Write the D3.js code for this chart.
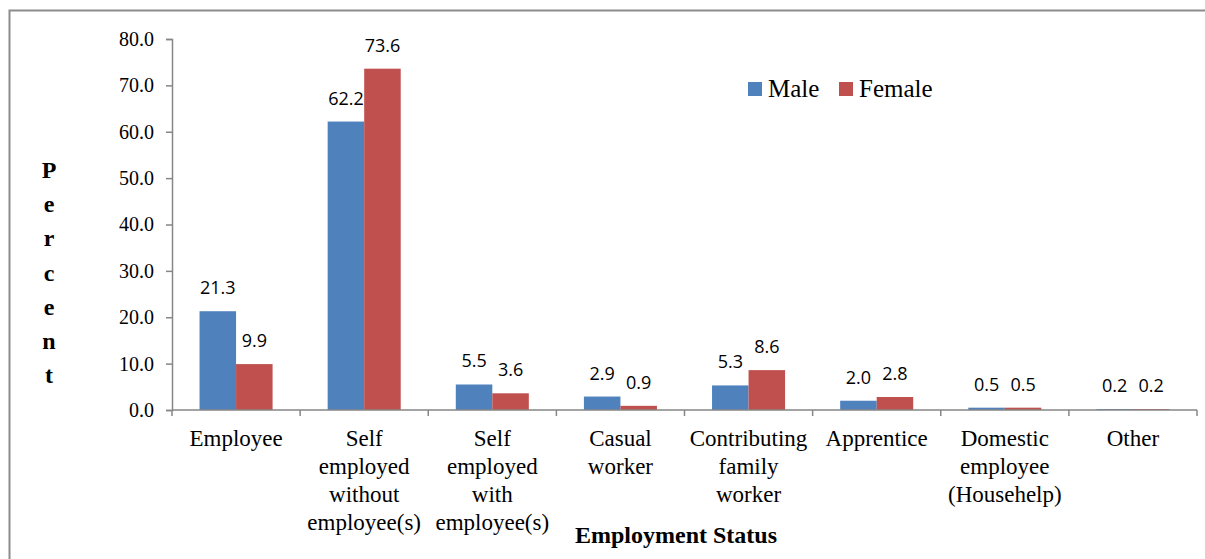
<!DOCTYPE html>
<html>
<head>
<meta charset="utf-8">
<script src="https://cdn.jsdelivr.net/npm/d3@7"></script>
<style>
  html, body { margin: 0; padding: 0; background: #fff; }
  svg { display: block; }
</style>
</head>
<body>
<svg id="chart" width="1205" height="559"></svg>
<script>
// Employment status by sex (percent)
const categories = [
  "Employee",
  "Self\nemployed\nwithout\nemployee(s)",
  "Self\nemployed\nwith\nemployee(s)",
  "Casual\nworker",
  "Contributing\nfamily\nworker",
  "Apprentice",
  "Domestic\nemployee\n(Househelp)",
  "Other"
];
const seriesNames = ["Male", "Female"];
const maleValues = [21.3, 62.2, 5.5, 2.9, 5.3, 2.0, 0.5, 0.2];
const femaleValues = [9.9, 73.6, 3.6, 0.9, 8.6, 2.8, 0.5, 0.2];
const yTicks = [0, 10, 20, 30, 40, 50, 60, 70, 80];
const yTitle = "Percent";
const xTitle = "Employment Status";

const colors = { Male: "#4F81BD", Female: "#C0504D" };
const axisColor = "#868686";
const serif = "'Liberation Serif', 'Times New Roman', serif";
const sans = "'Open Sans', 'Noto Sans', sans-serif";

const svg = d3.select("#chart");

// outer frame
svg.append("rect")
  .attr("x", 9.5).attr("y", 10.5)
  .attr("width", 1300).attr("height", 700)
  .attr("fill", "none").attr("stroke", "#8c8c8c").attr("stroke-width", 2);

const plot = { left: 172, right: 1197, top: 39, bottom: 410 };

const x0 = d3.scaleBand()
  .domain(categories)
  .range([plot.left, plot.right])
  .paddingInner(0.43)
  .paddingOuter(0.215);

const x1 = d3.scaleBand()
  .domain(seriesNames)
  .range([0, x0.bandwidth()]);

const y = d3.scaleLinear()
  .domain([0, 80])
  .range([plot.bottom, plot.top]);

const rows = categories.map((c, i) => ({
  category: c,
  values: [
    { key: "Male", value: maleValues[i] },
    { key: "Female", value: femaleValues[i] }
  ]
}));

// bars
const groups = svg.append("g").selectAll("g")
  .data(rows).join("g")
  .attr("transform", d => `translate(${x0(d.category)},0)`);

groups.selectAll("rect")
  .data(d => d.values).join("rect")
  .attr("x", d => x1(d.key))
  .attr("y", d => y(d.value))
  .attr("width", x1.bandwidth())
  .attr("height", d => y(0) - y(d.value))
  .attr("fill", d => colors[d.key]);

// value labels
groups.selectAll("text")
  .data(d => d.values).join("text")
  .attr("x", d => x1(d.key) + x1.bandwidth() / 2)
  .attr("y", d => y(d.value) - 17)
  .attr("text-anchor", "middle")
  .attr("font-family", sans)
  .attr("font-size", 18)
  .attr("fill", "#000")
  .text(d => d.value.toFixed(1));

// y axis
const yAxis = svg.append("g")
  .attr("transform", `translate(${plot.left},0)`)
  .call(d3.axisLeft(y).tickValues(yTicks).tickFormat(d3.format(".1f")).tickSize(6).tickPadding(12));
yAxis.select(".domain").attr("stroke", axisColor).attr("stroke-width", 1.5);
yAxis.selectAll(".tick line").attr("stroke", axisColor).attr("stroke-width", 1.5);
yAxis.selectAll(".tick text")
  .attr("font-family", serif).attr("font-size", 20).attr("fill", "#000");

// x axis: boundary ticks between categories
const xAxis = svg.append("g");
xAxis.append("line")
  .attr("x1", plot.left).attr("x2", plot.right)
  .attr("y1", y(0)).attr("y2", y(0))
  .attr("stroke", axisColor).attr("stroke-width", 1.5);
const step = x0.step();
const boundaries = d3.range(categories.length + 1).map(i => plot.left + i * step);
xAxis.selectAll("line.tick")
  .data(boundaries).join("line")
  .attr("class", "tick")
  .attr("x1", d => d).attr("x2", d => d)
  .attr("y1", y(0)).attr("y2", y(0) + 6)
  .attr("stroke", axisColor).attr("stroke-width", 1.5);

// category labels
const catLabels = svg.append("g").selectAll("text")
  .data(categories).join("text")
  .attr("x", d => x0(d) + x0.bandwidth() / 2)
  .attr("y", 446)
  .attr("text-anchor", "middle")
  .attr("font-family", serif)
  .attr("font-size", 23)
  .attr("fill", "#000");
catLabels.selectAll("tspan")
  .data(d => d.split("\n")).join("tspan")
  .attr("x", function () { return d3.select(this.parentNode).attr("x"); })
  .attr("y", (d, i) => 446 + i * 28)
  .text(d => d);

// axis titles
svg.append("text")
  .attr("x", 676).attr("y", 543)
  .attr("text-anchor", "middle")
  .attr("font-family", serif).attr("font-size", 24).attr("font-weight", "bold")
  .text(xTitle);

svg.append("g").selectAll("text")
  .data(yTitle.split("")).join("text")
  .attr("x", 49)
  .attr("y", (d, i) => 178 + i * 34.2)
  .attr("text-anchor", "middle")
  .attr("font-family", serif).attr("font-size", 24).attr("font-weight", "bold")
  .text(d => d);

// legend
const legend = svg.append("g");
const legendX = [748, 839];
seriesNames.forEach((name, i) => {
  legend.append("rect")
    .attr("x", legendX[i]).attr("y", 82)
    .attr("width", 14).attr("height", 14)
    .attr("fill", colors[name]);
  legend.append("text")
    .attr("x", legendX[i] + 20).attr("y", 97)
    .attr("font-family", serif).attr("font-size", 25).attr("fill", "#000")
    .text(name);
});
</script>
</body>
</html>
